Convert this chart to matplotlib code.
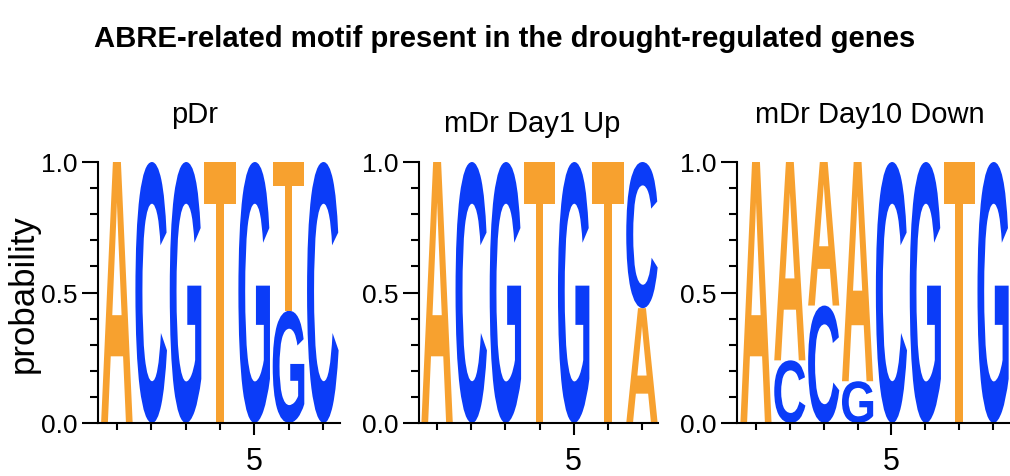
import matplotlib
matplotlib.use("Agg")
import matplotlib.pyplot as plt
from matplotlib.textpath import TextPath
from matplotlib.patches import PathPatch
from matplotlib.font_manager import FontProperties
from matplotlib.transforms import Affine2D
from matplotlib.ticker import MultipleLocator

# ---- motif probabilities per position (A, C, G, T) ----
bases = ["A", "C", "G", "T"]

pdr_A = [1.00, 0.00, 0.00, 0.00, 0.00, 0.00, 0.00]
pdr_C = [0.00, 1.00, 0.00, 0.00, 0.00, 0.00, 1.00]
pdr_G = [0.00, 0.00, 1.00, 0.00, 1.00, 0.43, 0.00]
pdr_T = [0.00, 0.00, 0.00, 1.00, 0.00, 0.57, 0.00]

up1_A = [1.00, 0.00, 0.00, 0.00, 0.00, 0.00, 0.44]
up1_C = [0.00, 1.00, 0.00, 0.00, 0.00, 0.00, 0.56]
up1_G = [0.00, 0.00, 1.00, 0.00, 1.00, 0.00, 0.00]
up1_T = [0.00, 0.00, 0.00, 1.00, 0.00, 1.00, 0.00]

down10_A = [1.00, 0.76, 0.55, 0.84, 0.00, 0.00, 0.00, 0.00]
down10_C = [0.00, 0.24, 0.45, 0.00, 1.00, 0.00, 0.00, 0.00]
down10_G = [0.00, 0.00, 0.00, 0.16, 0.00, 1.00, 0.00, 1.00]
down10_T = [0.00, 0.00, 0.00, 0.00, 0.00, 0.00, 1.00, 0.00]

panel_titles = ["pDr", "mDr Day1 Up", "mDr Day10 Down"]
main_title = "ABRE-related motif present in the drought-regulated genes"
ytick_values = [0.0, 0.5, 1.0]
ytick_labels = ["0.0", "0.5", "1.0"]
xtick_labeled = 5

panels = [
    [pdr_A, pdr_C, pdr_G, pdr_T],
    [up1_A, up1_C, up1_G, up1_T],
    [down10_A, down10_C, down10_G, down10_T],
]

colors = {"A": "#F7A12F", "C": "#0B3CF8", "G": "#0B3CF8", "T": "#F7A12F"}

plt.rcParams["font.family"] = ["Liberation Sans", "DejaVu Sans"]
glyph_font = FontProperties(family="Liberation Sans", weight="bold")


def draw_letter(ax, ch, xc, y0, h, w, color):
    tp = TextPath((0, 0), ch, size=1, prop=glyph_font)
    bb = tp.get_extents()
    tr = (Affine2D().translate(-bb.x0, -bb.y0)
          .scale(w / bb.width, h / bb.height)
          .translate(xc - w / 2, y0))
    ax.add_patch(PathPatch(tr.transform_path(tp), fc=color, ec="none", lw=0))


W, H = 1010, 477
fig = plt.figure(figsize=(W / 100, H / 100), dpi=100)

# axes boxes in pixels: (left, right, xmin, xmax), shared bottom/top
boxes = [(98, 340, 0.45, 7.5), (419, 658, 0.47, 7.47), (737, 1010, 0.44, 8.5)]
y_bot, y_top = 424, 163

axes = []
for (l, r, x0, x1), probs in zip(boxes, panels):
    ax = fig.add_axes([l / W, (H - y_bot) / H, (r - l) / W, (y_bot - y_top) / H])
    ax.set_xlim(x0, x1)
    ax.set_ylim(0, 1)
    n = len(probs[0])
    for i in range(n):
        col = sorted(((probs[b][i], bases[b]) for b in range(4) if probs[b][i] > 0))
        y = 0.0
        for p, ch in col:
            draw_letter(ax, ch, i + 1, y, p, 0.92, colors[ch])
            y += p
    for s in ("top", "right"):
        ax.spines[s].set_visible(False)
    for s in ("left", "bottom"):
        ax.spines[s].set_linewidth(1.5)
    ax.set_yticks(ytick_values)
    ax.set_yticklabels(ytick_labels)
    ax.yaxis.set_minor_locator(MultipleLocator(0.1))
    ax.set_xticks([xtick_labeled])
    ax.set_xticklabels([str(xtick_labeled)])
    ax.set_xticks([k for k in range(1, n + 1) if k != xtick_labeled], minor=True)
    ax.tick_params(axis="y", which="major", length=11.5, width=1.5, labelsize=19, pad=3.5)
    ax.tick_params(axis="y", which="minor", length=5.8, width=1.5)
    ax.tick_params(axis="x", which="major", length=8.5, width=1.5, labelsize=22, pad=8)
    ax.tick_params(axis="x", which="minor", length=5, width=1.5)
    axes.append(ax)

axes[0].set_ylabel("probability", fontsize=25)
axes[0].yaxis.set_label_coords((40 - 98) / 242, 0.5)

# panel headings
for txt, xc, base in zip(panel_titles, [195, 532, 870], [123, 132, 123]):
    fig.text(xc / W, (H - base) / H, txt, ha="center", va="baseline", fontsize=21)

title = fig.text(505 / W, (H - 47) / H, main_title, ha="center", va="baseline",
                 fontsize=26, fontweight="bold")
# shrink the heading until it spans about 820 px
fig.canvas.draw()
width_px = title.get_window_extent().width
title.set_fontsize(26 * 820 / width_px)

fig.savefig("out.png", dpi=100)
